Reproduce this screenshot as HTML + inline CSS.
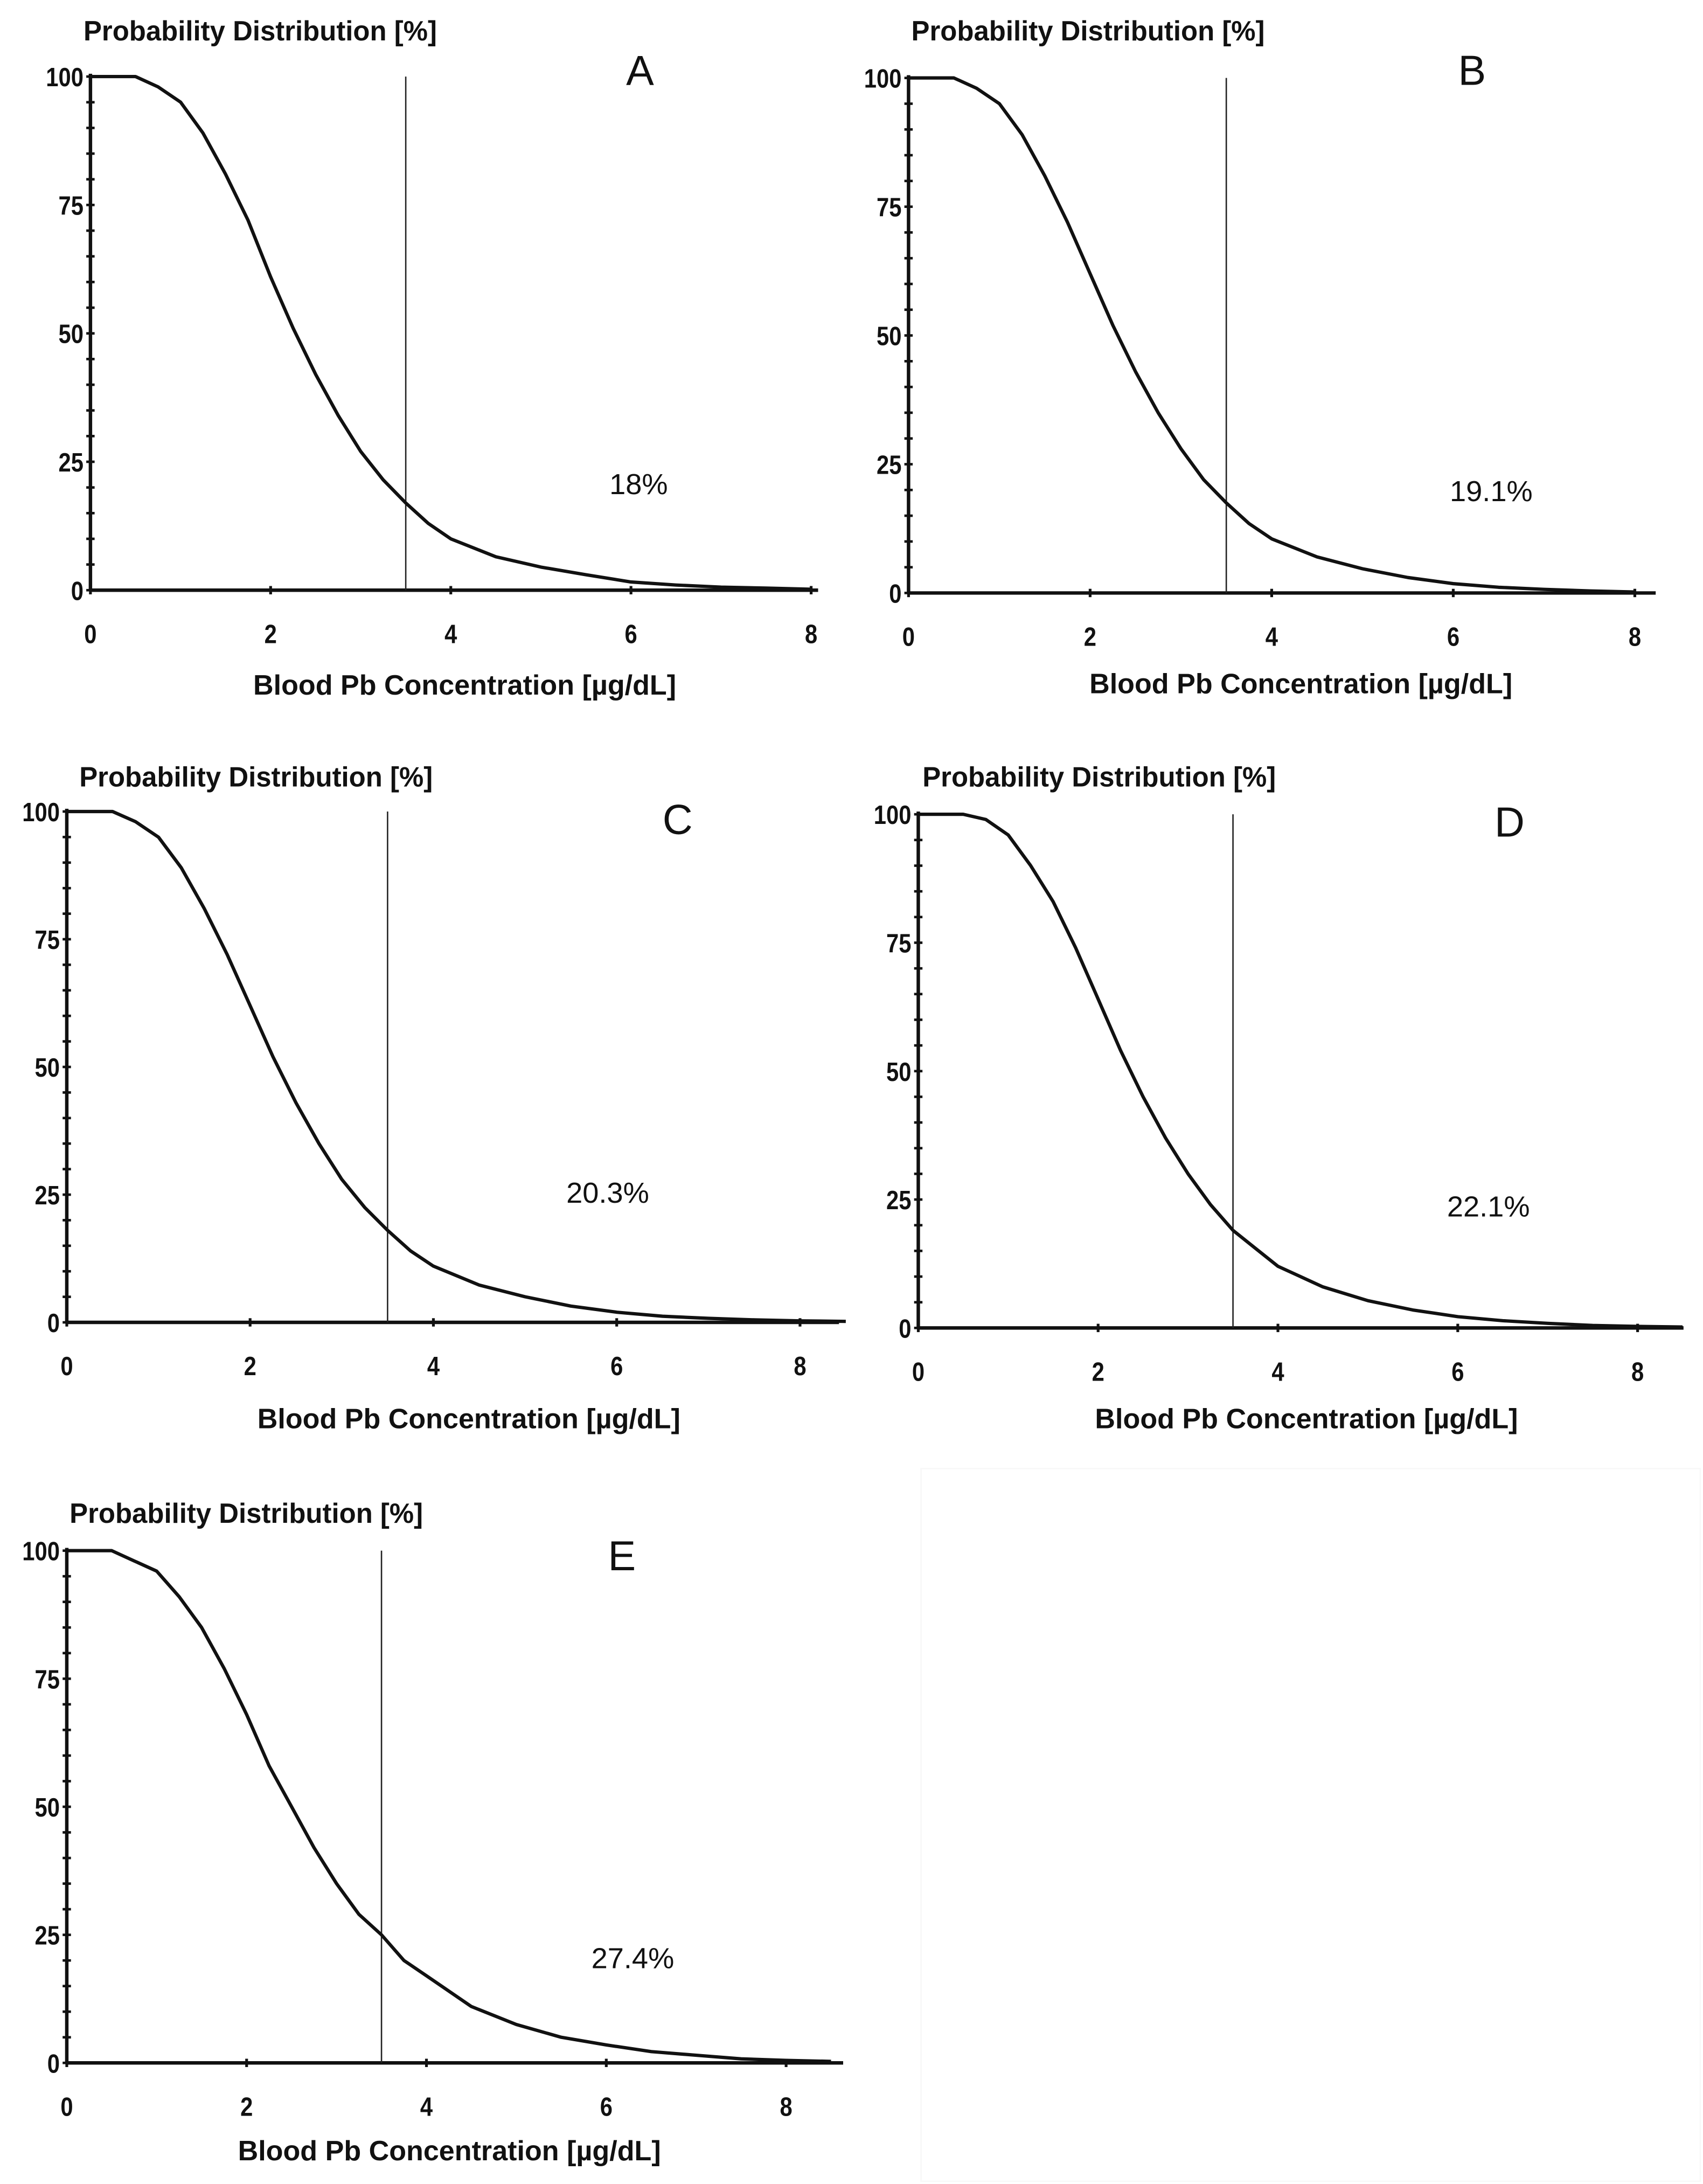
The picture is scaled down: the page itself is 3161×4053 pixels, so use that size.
<!DOCTYPE html>
<html><head><meta charset="utf-8">
<style>
html,body{margin:0;padding:0;background:#fff;}
svg{display:block;}
.t{font-family:"Liberation Sans",sans-serif;fill:#111;}
</style></head>
<body>
<svg id="fig" xmlns="http://www.w3.org/2000/svg" width="3161" height="4053" viewBox="0 0 1224 1569" preserveAspectRatio="none">
<rect x="0" y="0" width="1224" height="1569" fill="#fff"/>
<rect x="662" y="1055" width="560" height="512" fill="none" stroke="#f8f8f8" stroke-width="1"/>
</svg>
<script>
// Shared x sample points (µg/dL)
const xs = [0,0.5,0.75,1,1.25,1.5,1.75,2,2.25,2.5,2.75,3,3.25,3.5,3.75,4,4.5,5,5.5,6,6.5,7,7.5,8,8.5];
// Exceedance probability (%) per panel
const seriesA = [100,100,98,95,89,81,72,61,51,42,34,27,21.5,17,13,10,6.5,4.5,3,1.6,1,0.6,0.4,0.2,0.2];
const seriesB = [100,100,98,95,89,81,72,62,52,43,35,28,22,17.5,13.5,10.5,7,4.7,3,1.8,1.1,0.7,0.4,0.2,0.2];
const seriesC = [100,100,98,95,89,81,72,62,52,43,35,28,22.5,18,14,11,7.3,5,3.2,2,1.2,0.8,0.5,0.3,0.2];
const seriesD = [100,100,99,96,90,83,74,64,54,45,37,30,24,19,15.5,12,8,5.3,3.5,2.2,1.4,0.9,0.5,0.3,0.2];
const seriesE = [100,100,98,96,91,85,77,68,58,50,42,35,29,25,20,17,11,7.5,5,3.5,2.2,1.5,0.8,0.5,0.3];
const percents = ["18%","19.1%","20.3%","22.1%","27.4%"];
const letters = ["A","B","C","D","E"];
const yTicks = [0,25,50,75,100];
const xTicks = [0,2,4,6,8];
const threshold = 3.5;

const panels = [
 {ax:65,y100:55,y0:424,x8:583,xend:588,title:[60,22],lt:[460,50],pc:[438,355],xl:[334,499],s:seriesA,xmax:8},
 {ax:653,y100:56,y0:426,x8:1175,xend:1190,title:[655,22],lt:[1058,50],pc:[1042,360],xl:[935,498],s:seriesB,xmax:8.2},
 {ax:48,y100:583,y0:950,x8:575,xend:603,title:[57,558],lt:[487,588],pc:[407,864],xl:[337,1026],s:seriesC,xmax:8.5},
 {ax:660,y100:585,y0:954,x8:1177,xend:1210,title:[663,558],lt:[1085,590],pc:[1040,874],xl:[939,1026],s:seriesD,xmax:8.5},
 {ax:48,y100:1114,y0:1482,x8:565,xend:606,title:[50,1087],lt:[447,1117],pc:[425,1414],xl:[323,1552],s:seriesE,xmax:8.6}
];
const svg = document.getElementById('fig');
const NS = 'http://www.w3.org/2000/svg';
function mk(tag, attrs, parent){const e=document.createElementNS(NS,tag);for(const k in attrs)e.setAttribute(k,attrs[k]);(parent||svg).appendChild(e);return e;}

panels.forEach((p,i)=>{
  const g = mk('g',{});
  
  
  const X = v => p.ax + v*(p.x8-p.ax)/8;
  const Y = v => p.y0 - v*(p.y0-p.y100)/100;
  const ya = mk('line',{x1:p.ax,y1:p.y100-2,x2:p.ax,y2:p.y0,stroke:'#111','stroke-width':2.5},g);
  
  
  const xa = mk('line',{x1:p.ax,y1:p.y0,x2:p.xend,y2:p.y0,stroke:'#111','stroke-width':2.5},g);
  
  
  for(let v=0;v<=100;v+=5){ mk('line',{x1:p.ax-3,y1:Y(v),x2:p.ax+3,y2:Y(v),stroke:'#111','stroke-width':1.8},g); }
  yTicks.forEach(v=>{
    const t = mk('text',{x:p.ax-5,y:Y(v)+7,'text-anchor':'end','font-size':19,'font-weight':'bold',class:'t',textLength:(String(v).length*9),lengthAdjust:'spacingAndGlyphs'},g);
    t.textContent = v;
    
    
  });
  xTicks.forEach(v=>{
    mk('line',{x1:X(v),y1:p.y0-3,x2:X(v),y2:p.y0+3,stroke:'#111','stroke-width':2},g);
    const t = mk('text',{x:X(v),y:p.y0+38,'text-anchor':'middle','font-size':19,'font-weight':'bold',class:'t',textLength:9,lengthAdjust:'spacingAndGlyphs'},g);
    t.textContent = v;
    
    
  });
  const th = mk('line',{x1:X(threshold),y1:p.y100,x2:X(threshold),y2:p.y0,stroke:'#222','stroke-width':1},g);
  
  
  let d='';
  xs.forEach((x,k)=>{ if(x<=p.xmax) d += (k?'L':'M')+X(x).toFixed(1)+','+Y(p.s[k]).toFixed(1); });
  const c = mk('path',{d:d,fill:'none',stroke:'#111','stroke-width':2.4,'stroke-linejoin':'round'},g);
  
  
  const ti = mk('text',{x:p.title[0],y:p.title[1]+7,'font-size':20,'font-weight':'bold',class:'t',textLength:254,lengthAdjust:'spacingAndGlyphs'},g);
  ti.textContent = 'Probability Distribution [%]';
  
  
  const xl = mk('text',{x:p.xl[0]-152,y:p.xl[1],'font-size':20,'font-weight':'bold',class:'t',textLength:304,lengthAdjust:'spacingAndGlyphs'},g);
  xl.textContent = 'Blood Pb Concentration [µg/dL]';
  
  
  const lt = mk('text',{x:p.lt[0],y:p.lt[1]+11,'text-anchor':'middle','font-size':30,class:'t'},g);
  lt.textContent = letters[i];
  
  
  const pc = mk('text',{x:p.pc[0],y:p.pc[1],'font-size':21,class:'t'},g);
  pc.textContent = percents[i];
  
  
});
</script>
</body></html>
